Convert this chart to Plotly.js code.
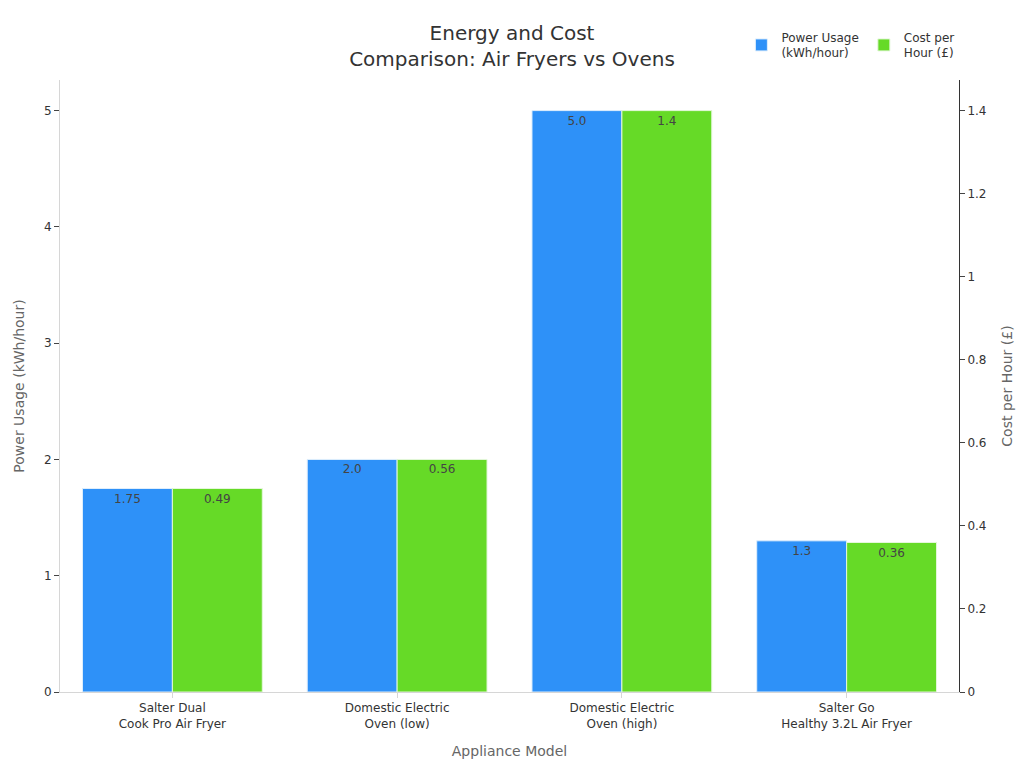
<!DOCTYPE html>
<html>
<head>
<meta charset="utf-8">
<script src="https://cdn.plot.ly/plotly-3.0.1.min.js"></script>
<style>
  html, body { margin: 0; padding: 0; background: white; }
  #chart { width: 1024px; height: 768px; }
</style>
</head>
<body>
<div id="chart"></div>
<script>
/*
 Data
*/

var models = [
  "Salter Dual<br>Cook Pro Air Fryer",
  "Domestic Electric<br>Oven (low)",
  "Domestic Electric<br>Oven (high)",
  "Salter Go<br>Healthy 3.2L Air Fryer"
];
var power_usage = [1.75, 2.0, 5.0, 1.3];
var power_labels = ["1.75", "2.0", "5.0", "1.3"];
var cost_per_hour = [0.49, 0.56, 1.4, 0.36];
var cost_labels = ["0.49", "0.56", "1.4", "0.36"];

/*
 Chart
*/

var trace1 = {
  x: models,
  y: power_usage,
  text: power_labels,
  name: "Power Usage<br>(kWh/hour)",
  type: "bar",
  yaxis: "y",
  offsetgroup: "1",
  textposition: "inside",
  insidetextanchor: "end",
  textfont: { color: "#444", size: 12 },
  marker: { color: "#2E91F8", line: { color: "#dfeefc", width: 1 } },
  hoverinfo: "x+y"
};

var trace2 = {
  x: models,
  y: cost_per_hour,
  text: cost_labels,
  name: "Cost per<br>Hour (£)",
  type: "bar",
  yaxis: "y2",
  offsetgroup: "2",
  textposition: "inside",
  insidetextanchor: "end",
  textfont: { color: "#444", size: 12 },
  marker: { color: "#66DA27", line: { color: "#e4f7da", width: 1 } },
  hoverinfo: "x+y"
};

var data = [trace1, trace2];

var layout = {
  width: 1024,
  height: 768,
  font: { family: "DejaVu Sans, sans-serif", color: "#333", size: 12 },
  title: {
    text: "Energy and Cost<br>Comparison: Air Fryers vs Ovens",
    font: { size: 20, color: "#333" },
    x: 0.5,
    xanchor: "center",
    y: 0.948,
    yanchor: "top"
  },
  barmode: "group",
  bargap: 0.2,
  bargroupgap: 0,
  margin: { l: 60, r: 65, t: 80, b: 76, autoexpand: false },
  plot_bgcolor: "white",
  paper_bgcolor: "white",
  showlegend: true,
  legend: {
    orientation: "h",
    xref: "container",
    yref: "container",
    x: 0.724,
    xanchor: "left",
    y: 0.941,
    yanchor: "middle",
    font: { size: 12, color: "#333" },
    traceorder: "normal"
  },
  xaxis: {
    title: { text: "Appliance Model", font: { size: 14, color: "#666" }, standoff: 16 },
    showline: true,
    linecolor: "#d6d6d6",
    linewidth: 1,
    ticks: "outside",
    ticklen: 5,
    tickcolor: "#d6d6d6",
    showgrid: false,
    tickfont: { size: 12, color: "#333" }
  },
  yaxis: {
    title: { text: "Power Usage (kWh/hour)", font: { size: 14, color: "#666" }, standoff: 16 },
    showline: true,
    linecolor: "#d6d6d6",
    ticks: "outside",
    ticklen: 5,
    tickcolor: "#444",
    showgrid: false,
    zeroline: false,
    rangemode: "tozero",
    tickfont: { size: 12, color: "#333" }
  },
  yaxis2: {
    title: { text: "Cost per Hour (£)", font: { size: 14, color: "#666" }, standoff: 16 },
    overlaying: "y",
    side: "right",
    showline: true,
    linecolor: "#333",
    ticks: "outside",
    ticklen: 5,
    tickcolor: "#444",
    showgrid: false,
    zeroline: false,
    rangemode: "tozero",
    tickfont: { size: 12, color: "#333" }
  }
};

var config = { displayModeBar: false, responsive: false };

Plotly.newPlot("chart", data, layout, config);
</script>
</body>
</html>
